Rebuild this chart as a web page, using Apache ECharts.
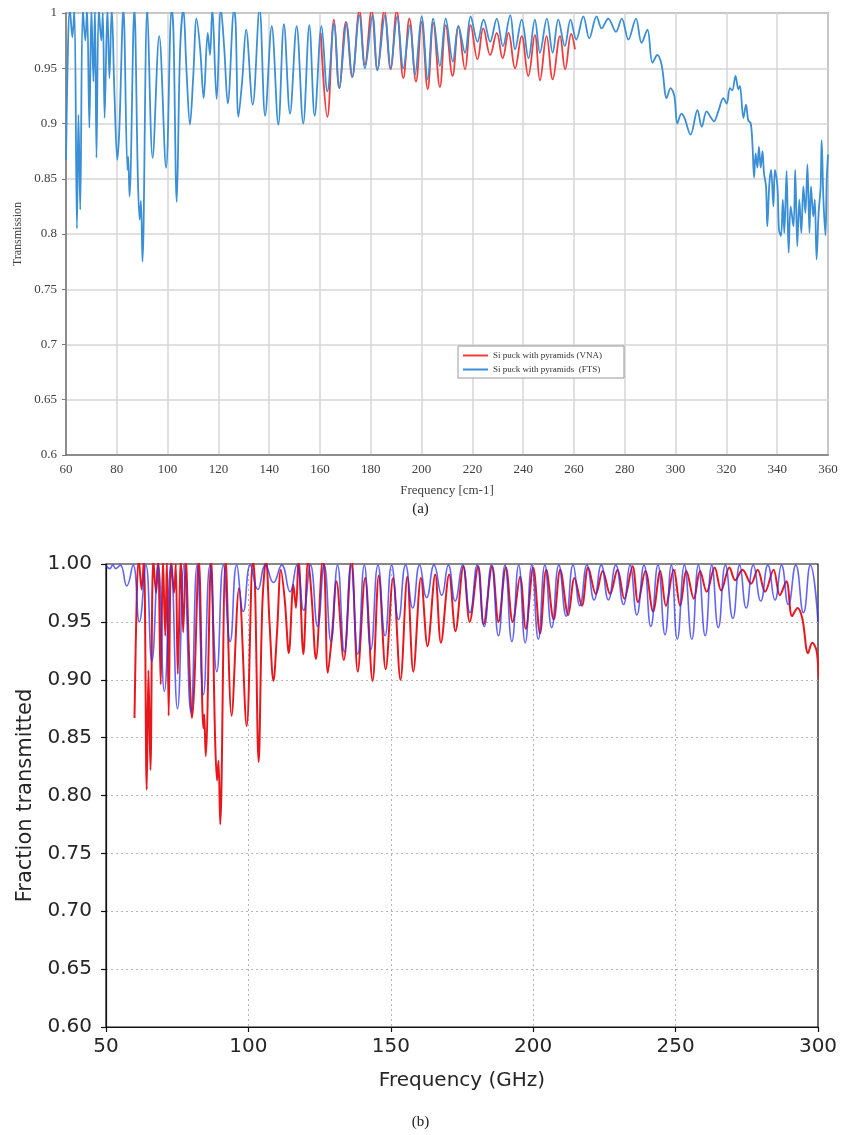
<!DOCTYPE html>
<html>
<head>
<meta charset="utf-8">
<title>Si puck with pyramids - transmission</title>
<script src="https://cdn.jsdelivr.net/npm/echarts@6/dist/echarts.min.js"></script>
<style>
  html, body { margin: 0; padding: 0; background: #ffffff; }
  #chart { width: 841px; height: 1135px; }
</style>
</head>
<body>
<div id="chart"></div>
<script>
// FTS measurement: [frequency, transmission] at the fringe extrema
const ftsPoints = [
  [60.0,0.867],[60.8,0.972],[61.5,1.004],[62.5,0.978],[63.3,1.004],[64.3,0.805],[64.9,0.908],[65.6,0.822],
  [66.6,1.004],[67.6,0.975],[68.3,1.004],[69.2,0.896],[70.0,1.004],[70.8,0.938],[71.4,1.004],[72.0,0.869],
  [72.9,1.004],[73.9,0.975],[74.5,1.000],[75.2,0.905],[76.3,1.004],[77.1,0.941],[78.0,1.004],[79.1,0.925],
  [80.2,0.867],[81.0,0.895],[82.6,1.004],[84.2,0.858],[84.5,0.870],[85.0,0.834],[86.9,1.004],[88.3,0.850],
  [89.0,0.813],[89.5,0.830],[90.1,0.775],[92.0,1.004],[94.1,0.869],[96.7,0.979],[99.4,0.860],[101.6,1.004],
  [102.3,0.983],[103.6,0.829],[104.9,0.965],[106.2,1.004],[107.4,0.950],[108.8,0.899],[110.1,0.943],[111.4,0.995],
  [112.8,0.968],[114.2,0.923],[115.8,0.982],[116.7,0.962],[117.6,1.004],[119.3,0.922],[121.0,1.004],[122.3,0.968],
  [123.7,0.918],[126.2,1.004],[126.8,0.990],[127.9,0.906],[129.4,0.940],[130.9,0.985],[133.5,0.917],[136.2,1.004],
  [138.4,0.907],[141.0,0.988],[143.6,0.899],[145.8,0.990],[148.2,0.909],[150.8,0.988],[153.4,0.900],[155.8,0.989],
  [157.9,0.907],[160.6,0.988],[162.9,0.929],[165.6,0.991],[167.6,0.932],[170.5,0.991],[172.7,0.942],[175.5,0.998],
  [177.7,0.950],[180.7,0.998],[182.6,0.948],[185.6,0.998],[187.8,0.950],[190.4,0.997],[192.8,0.950],[195.4,0.989],
  [197.4,0.944],[200.0,0.997],[202.4,0.940],[204.6,0.995],[207.2,0.952],[209.5,0.995],[212.3,0.956],[214.5,0.988],
  [217.1,0.964],[219.3,0.997],[222.0,0.974],[224.4,0.994],[227.0,0.974],[229.6,0.995],[232.0,0.970],[234.9,0.998],
  [236.8,0.967],[239.4,0.994],[242.1,0.959],[244.6,0.994],[246.6,0.964],[249.3,0.995],[251.6,0.964],[253.8,0.994],
  [256.4,0.970],[258.6,0.994],[260.9,0.976],[263.7,0.997],[266.0,0.977],[268.9,0.997],[270.9,0.986],[273.5,0.995],
  [276.5,0.983],[278.8,0.995],[281.4,0.976],[284.4,0.995],[286.6,0.973],[288.9,0.985],[290.9,0.955],[292.8,0.962],
  [294.5,0.953],[296.5,0.923],[298.0,0.932],[299.5,0.925],[300.7,0.900],[302.3,0.909],[303.5,0.905],[305.9,0.890],
  [308.6,0.912],[310.3,0.897],[312.2,0.911],[314.0,0.905],[315.1,0.902],[316.8,0.911],[318.8,0.923],[320.1,0.918],
  [321.4,0.932],[322.3,0.930],[323.6,0.943],[324.7,0.931],[325.3,0.934],[326.7,0.905],[327.7,0.917],[328.6,0.903],
  [329.6,0.900],[330.3,0.879],[330.9,0.851],[331.5,0.873],[332.2,0.860],[332.8,0.879],[333.5,0.860],[334.2,0.875],
  [334.8,0.855],[335.6,0.843],[336.1,0.807],[336.9,0.845],[337.6,0.858],[338.5,0.825],[339.1,0.858],[340.1,0.843],
  [340.7,0.804],[341.5,0.798],[342.2,0.831],[342.8,0.801],[343.7,0.857],[344.5,0.783],[345.3,0.825],[346.4,0.807],
  [347.1,0.858],[347.9,0.789],[348.7,0.831],[349.5,0.801],[350.3,0.843],[351.1,0.819],[351.9,0.863],[352.7,0.801],
  [353.3,0.843],[354.2,0.816],[354.8,0.831],[355.5,0.777],[356.3,0.819],[357.1,0.843],[357.5,0.885],[358.2,0.831],
  [359.0,0.799],[359.5,0.849],[360.0,0.872]
];

// VNA measurement: [frequency, transmission]
const vnaPoints = [
  [160.3,0.982],[162.9,0.906],[165.5,0.994],[167.6,0.932],[170.2,0.992],[172.7,0.942],[175.5,1.002],[177.7,0.953],
  [180.3,1.002],[182.6,0.949],[185.3,1.002],[187.8,0.949],[190.2,1.002],[192.8,0.941],[195.2,0.995],[197.8,0.938],
  [200.0,0.992],[202.4,0.931],[204.6,0.991],[207.2,0.933],[209.5,0.989],[212.2,0.943],[214.5,0.988],[217.1,0.949],
  [219.3,0.989],[222.0,0.958],[224.3,0.986],[227.0,0.962],[229.6,0.982],[231.9,0.959],[234.2,0.982],[236.8,0.950],
  [239.4,0.979],[242.0,0.943],[244.6,0.980],[246.6,0.939],[249.2,0.979],[251.6,0.940],[254.5,0.979],[256.5,0.949],
  [258.9,0.981],[260.4,0.967]
];

// Model curve: [frequency, fraction transmitted]
const modelPoints = [
  [50.0,0.999],[51.3,0.996],[52.4,0.999],[53.4,0.996],[55.0,0.999],[57.3,0.981],[59.5,0.999],[61.7,0.950],
  [64.0,0.999],[66.1,0.916],[68.3,0.999],[70.5,0.890],[72.8,0.999],[75.1,0.875],[77.4,0.999],[79.8,0.872],
  [82.0,0.999],[84.2,0.887],[86.5,0.999],[88.9,0.907],[91.2,0.999],[93.6,0.933],[95.9,0.999],[98.2,0.959],
  [100.7,0.999],[103.3,0.978],[106.0,0.999],[108.8,0.984],[111.7,0.999],[114.6,0.976],[117.0,0.999],[119.4,0.960],
  [121.8,0.999],[124.3,0.946],[126.6,0.999],[129.0,0.933],[131.3,0.999],[133.7,0.924],[136.0,0.999],[138.4,0.922],
  [140.7,0.999],[143.0,0.926],[145.5,0.999],[148.0,0.938],[150.3,0.999],[152.7,0.952],[155.2,0.999],[157.7,0.962],
  [160.1,0.999],[162.6,0.971],[165.2,0.999],[167.9,0.973],[170.2,0.999],[172.6,0.968],[175.2,0.999],[177.8,0.958],
  [180.3,0.999],[182.8,0.946],[185.3,0.999],[187.8,0.938],[190.1,0.999],[192.5,0.933],[194.9,0.999],[197.2,0.932],
  [199.5,0.999],[201.8,0.935],[204.1,0.999],[206.5,0.945],[209.0,0.999],[211.6,0.955],[214.0,0.999],[216.4,0.964],
  [218.9,0.999],[221.4,0.969],[223.9,0.999],[226.4,0.969],[229.0,0.999],[231.7,0.965],[234.0,0.999],[236.4,0.956],
  [238.9,0.999],[241.3,0.946],[243.8,0.999],[246.3,0.939],[248.5,0.999],[250.6,0.935],[253.1,0.999],[255.7,0.935],
  [258.0,0.999],[260.4,0.938],[262.7,0.999],[265.0,0.945],[267.5,0.999],[270.1,0.953],[272.5,0.999],[274.8,0.962],
  [277.3,0.999],[279.9,0.968],[282.4,0.999],[284.9,0.969],[287.2,0.999],[289.6,0.965],[292.2,0.999],[294.9,0.958],
  [297.3,0.999],[300.0,0.950]
];

const seriesNames = ['Si puck with pyramids (VNA)', 'Si puck with pyramids  (FTS)'];
const panelLabels = ['(a)', '(b)'];

const serif = 'Liberation Serif';
const sans = 'DejaVu Sans';

const chart = echarts.init(document.getElementById('chart'), null, { renderer: 'canvas' });

chart.setOption({
  animation: false,
  backgroundColor: '#ffffff',
  title: [
    { text: panelLabels[0], left: 'center', top: 497,
      textStyle: { fontFamily: serif, fontSize: 15, fontWeight: 'normal', color: '#222' } },
    { text: panelLabels[1], left: 'center', top: 1110,
      textStyle: { fontFamily: serif, fontSize: 15, fontWeight: 'normal', color: '#222' } }
  ],
  legend: {
    data: seriesNames,
    orient: 'vertical',
    left: 458, top: 346,
    padding: [5, 22, 4, 5],
    itemGap: 5,
    itemWidth: 25, itemHeight: 2,
    icon: 'rect',
    borderColor: '#9a9a9a', borderWidth: 1,
    backgroundColor: '#ffffff',
    textStyle: { fontFamily: serif, fontSize: 9, color: '#333' }
  },
  grid: [
    { left: 66, top: 13, width: 762, height: 442, show: true,
      borderColor: '#7a7a7a', borderWidth: 1.5, backgroundColor: 'transparent' },
    { left: 106, top: 564, width: 712, height: 463, show: true,
      borderColor: '#111', borderWidth: 1.2, backgroundColor: 'transparent' }
  ],
  xAxis: [
    { gridIndex: 0, type: 'value', min: 60, max: 360, interval: 20,
      name: 'Frequency [cm-1]', nameLocation: 'middle', nameGap: 29,
      nameTextStyle: { fontFamily: serif, fontSize: 13, color: '#404040' },
      axisLine: { show: true, lineStyle: { color: '#7a7a7a', width: 1.5 } },
      axisTick: { show: false },
      axisLabel: { fontFamily: serif, fontSize: 13, color: '#404040', margin: 8 },
      splitLine: { show: true, lineStyle: { color: '#d6d6d6', width: 1.5 } } },
    { gridIndex: 1, type: 'value', min: 50, max: 300, interval: 50,
      name: 'Frequency (GHz)', nameLocation: 'middle', nameGap: 44,
      nameTextStyle: { fontFamily: sans, fontSize: 20, color: '#262626' },
      axisLine: { show: true, lineStyle: { color: '#111', width: 1.2 } },
      axisTick: { show: true, inside: false, length: 5, lineStyle: { color: '#111', width: 1.2 } },
      axisLabel: { fontFamily: sans, fontSize: 20, color: '#262626', margin: 10 },
      splitLine: { show: true, showMinLine: false, showMaxLine: false,
        lineStyle: { color: '#b5b5b5', width: 1, type: [2, 3] } } }
  ],
  yAxis: [
    { gridIndex: 0, type: 'value', min: 0.6, max: 1, interval: 0.05,
      name: 'Transmission', nameLocation: 'middle', nameGap: 42, nameRotate: 90,
      nameTextStyle: { fontFamily: serif, fontSize: 12, color: '#404040' },
      axisLine: { show: true, lineStyle: { color: '#7a7a7a', width: 1.5 } },
      axisTick: { show: true, inside: false, length: 4, lineStyle: { color: '#7a7a7a' } },
      axisLabel: { fontFamily: serif, fontSize: 13, color: '#404040', margin: 9 },
      splitLine: { show: true, lineStyle: { color: '#d6d6d6', width: 1.5 } } },
    { gridIndex: 1, type: 'value', min: 0.6, max: 1, interval: 0.05,
      name: 'Fraction transmitted', nameLocation: 'middle', nameGap: 70, nameRotate: 90,
      nameTextStyle: { fontFamily: sans, fontSize: 21, color: '#262626' },
      axisLine: { show: true, lineStyle: { color: '#111', width: 1.2 } },
      axisTick: { show: true, inside: false, length: 5, lineStyle: { color: '#111', width: 1.2 } },
      axisLabel: { fontFamily: sans, fontSize: 20, color: '#262626', margin: 14,
        formatter: v => v.toFixed(2) },
      splitLine: { show: true, showMinLine: false, showMaxLine: false,
        lineStyle: { color: '#b5b5b5', width: 1, type: [2, 3] } } }
  ],
  series: [
    { name: seriesNames[0], type: 'line', xAxisIndex: 0, yAxisIndex: 0, data: vnaPoints,
      showSymbol: false, smooth: 0.4, clip: true, z: 2,
      itemStyle: { color: '#f23b3b' },
      lineStyle: { color: '#f23b3b', width: 1.8 } },
    { name: seriesNames[1], type: 'line', xAxisIndex: 0, yAxisIndex: 0, data: ftsPoints,
      showSymbol: false, smooth: 0.35, clip: true, z: 3,
      itemStyle: { color: '#3b8fd6' },
      lineStyle: { color: '#3b8fd6', width: 1.8 } },
    { name: 'measured', type: 'line', xAxisIndex: 1, yAxisIndex: 1, data: ftsPoints,
      showSymbol: false, smooth: 0.35, clip: true, z: 2,
      lineStyle: { color: '#e8171c', width: 2 } },
    { name: 'model', type: 'line', xAxisIndex: 1, yAxisIndex: 1, data: modelPoints,
      showSymbol: false, smooth: 0.5, clip: true, z: 3,
      lineStyle: { color: '#3030f0', width: 1.6, opacity: 0.75 } }
  ]
});
</script>
</body>
</html>
